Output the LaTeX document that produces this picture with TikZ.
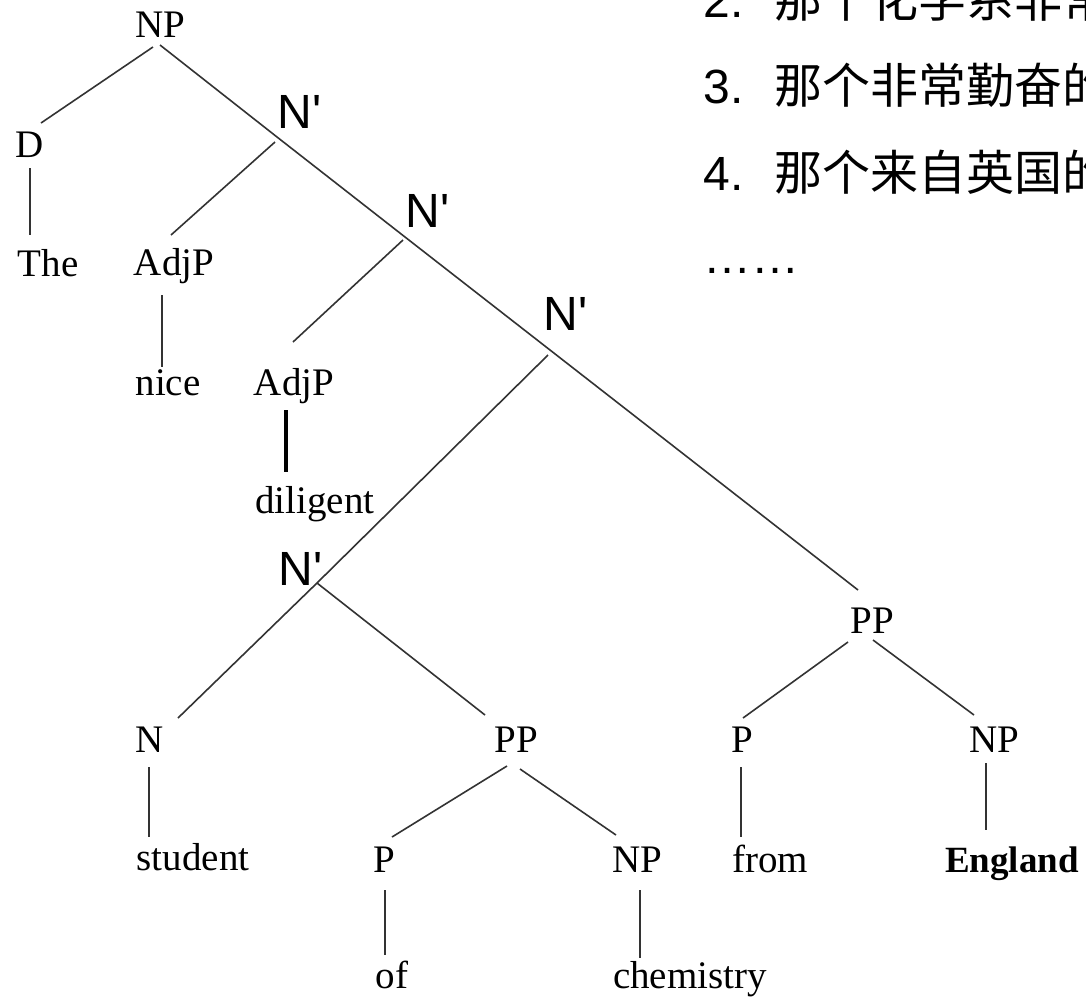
\documentclass[tikz,border=0pt]{standalone}
\usepackage{fontspec}
\setmainfont{Liberation Serif}
\newfontfamily\arialf{Liberation Sans}
\newfontfamily\cjkf{Noto Sans CJK SC}
\usetikzlibrary{calc}
\begin{document}
\begin{tikzpicture}[x=0.5pt,y=-0.5pt,
  tx/.style={inner sep=0pt,anchor=base,font=\fontsize{19.5}{20}\selectfont},
  bx/.style={inner sep=0pt,anchor=base,font=\fontsize{18.5}{20}\selectfont\bfseries},
  bar/.style={inner sep=0pt,anchor=base west,font=\arialf\fontsize{24}{26}\selectfont},
  cn/.style={inner sep=0pt,anchor=base west,font=\cjkf\fontsize{24}{26}\selectfont},
  tl/.style={draw=black!80,line width=0.8pt},
  thick line/.style={draw=black,line width=1.7pt}]
\fill[white] (0,0) rectangle (1086,997);
\useasboundingbox (0,0) rectangle (1086,997);

% tree nodes
\node[tx] (np0) at (160,37) {NP};
\node[tx] (d) at (30,157) {D};
\node[tx] (the) at (48,276) {The};
\node[tx] (adj1) at (174,275) {AdjP};
\node[tx] (nice) at (168,395) {nice};
\node[tx] (adj2) at (294,395) {AdjP};
\node[tx] (dil) at (315,513) {diligent};
\node[tx] (n) at (150,752) {N};
\node[tx] (pp1) at (516,752) {PP};
\node[tx] (student) at (193,870) {student};
\node[tx] (p1) at (384,872) {P};
\node[tx] (np1) at (637,872) {NP};
\node[tx] (of) at (392,988) {of};
\node[tx] (chem) at (690,988) {chemistry};
\node[tx] (pp2) at (872,633) {PP};
\node[tx] (p2) at (742,752) {P};
\node[tx] (np2) at (994,752) {NP};
\node[tx] (from) at (770,872) {from};
\node[bx] (eng) at (1012,872) {England};

% junctions and N' labels
\coordinate (j1) at (277,137);
\coordinate (j2) at (405,237);
\coordinate (j3) at (550,350);
\coordinate (j4) at (317,583);
\node[bar] (nb1) at (277,128) {N'};
\node[bar] (nb2) at (405,227) {N'};
\node[bar] (nb3) at (543,330) {N'};
\node[bar] (nb4) at (278,585) {N'};

% connectors
\draw[tl] ($(np0.base)+(-7,10)$) -- ($(d.base)+(11,-34)$);
\draw[tl] ($(d.base)+(0,11)$) -- ($(the.base)+(-18,-41)$);
\draw[tl] ($(np0.base)+(0,8)$) -- (j1) -- (j2) -- (j3) -- ($(pp2.base)+(-14,-43)$);
\draw[tl] ($(j1)+(-2,5)$) -- ($(adj1.base)+(-3,-40)$);
\draw[tl] ($(adj1.base)+(-12,20)$) -- ($(nice.base)+(-6,-28)$);
\draw[tl] ($(j2)+(-2,3)$) -- ($(adj2.base)+(-1,-53)$);
\draw[thick line] ($(adj2.base)+(-8,15)$) -- ($(dil.base)+(-29,-41)$);
\draw[tl] ($(j3)+(-2,5)$) -- (j4);
\draw[tl] (j4) -- ($(n.base)+(28,-34)$);
\draw[tl] (j4) -- ($(pp1.base)+(-31,-37)$);
\draw[tl] ($(n.base)+(-1,15)$) -- ($(student.base)+(-44,-33)$);
\draw[tl] ($(pp1.base)+(-9,14)$) -- ($(p1.base)+(8,-35)$);
\draw[tl] ($(pp1.base)+(4,17)$) -- ($(np1.base)+(-21,-37)$);
\draw[tl] ($(p1.base)+(1,18)$) -- ($(of.base)+(-7,-33)$);
\draw[tl] ($(np1.base)+(3,18)$) -- ($(chem.base)+(-50,-30)$);
\draw[tl] ($(pp2.base)+(-24,9)$) -- ($(p2.base)+(1,-34)$);
\draw[tl] ($(pp2.base)+(1,7)$) -- ($(np2.base)+(-20,-37)$);
\draw[tl] ($(p2.base)+(-1,15)$) -- ($(from.base)+(-29,-35)$);
\draw[tl] ($(np2.base)+(-8,11)$) -- ($(eng.base)+(-26,-42)$);

% Chinese list (cut off at the page edge, as in the reference)
\node[bar] (k2) at (703,17) {2.};
\node[cn] (c2) at (774,17) {那个化学系非常};
\node[bar] (k3) at (703,103) {3.};
\node[cn] (c3) at (774,103) {那个非常勤奋的};
\node[bar] (k4) at (703,190) {4.};
\node[cn] (c4) at (774,190) {那个来自英国的};
\node[bar] (dots) at (703,273) {……};
\end{tikzpicture}
\end{document}
